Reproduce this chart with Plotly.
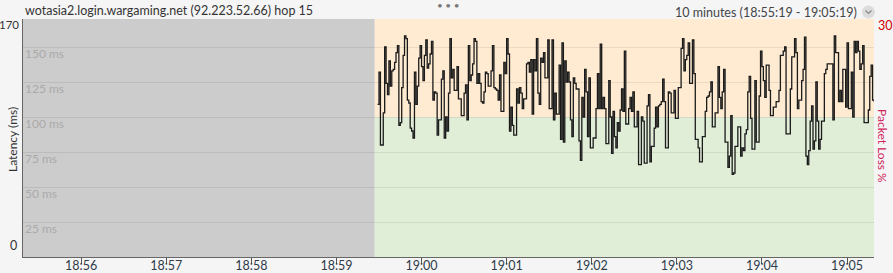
import plotly.graph_objects as go
import pandas as pd

# ---- data ----
title_left = "wotasia2.login.wargaming.net (92.223.52.66) hop 15"
title_right = "10 minutes (18:55:19 - 19:05:19)"
range_start = "2024-01-01 18:55:19"
range_end = "2024-01-01 19:05:19"
first_sample = "2024-01-01 18:59:29"
grid_vals = [25, 50, 75, 100, 125, 150]
grid_labels = ["25 ms", "50 ms", "75 ms", "100 ms", "125 ms", "150 ms"]
y_max = 170
threshold = 100
loss_max_label = "30"
x_tick_labels = ["18:56", "18:57", "18:58", "18:59", "19:00", "19:01", "19:02", "19:03", "19:04", "19:05"]

latency = [
    109, 132, 80, 80, 103, 150, 124, 116, 140, 122, 133, 134, 139, 146, 151, 94, 96, 121, 144, 158,
    156, 112, 110, 92, 90, 85, 132, 109, 122, 142, 151, 136, 126, 144, 155, 135, 138, 145, 154, 112,
    118, 117, 87, 98, 98, 127, 133, 85, 100, 90, 117, 156, 128, 134, 119, 119, 136, 113, 113, 101,
    101, 117, 123, 98, 151, 126, 130, 138, 156, 154, 124, 131, 124, 111, 110, 118, 132, 131, 122, 122,
    133, 151, 121, 120, 119, 112, 130, 104, 104, 139, 131, 156, 145, 90, 107, 94, 87, 87, 120, 110,
    121, 117, 106, 113, 113, 138, 139, 132, 141, 102, 141, 133, 156, 117, 109,
    142, 139, 146, 128, 128, 155, 106, 106, 155, 98, 117, 102, 102, 137, 84, 153, 82, 140, 125, 132,
    125, 98, 86, 128, 124, 120, 120, 83, 69, 114, 100, 134, 118, 86, 128, 78, 78, 85, 85, 106,
    131, 106, 152, 106, 114, 106, 81, 81, 126, 100, 74, 104, 86, 78, 96, 90, 105, 120, 104, 147,
    95, 95, 106, 114, 104, 118, 93, 93, 104, 66, 66, 100, 97, 67, 67, 108, 116, 68, 79, 79,
    92, 107, 93, 108, 109, 111, 127, 111, 78, 78, 118, 117, 103, 103, 119, 99, 99, 121, 121, 149,
    156, 133, 141, 144, 153, 124, 124, 155, 131, 84, 84, 78, 68, 68, 86, 86, 104, 114, 115, 118,
    125, 93, 93, 103, 103, 136, 114, 106, 118, 134, 82, 82, 64, 72, 101, 59, 60, 79, 79, 93,
    93, 72, 78, 76, 88, 91, 118, 129, 99, 77, 77, 126, 82, 82, 115, 147, 136, 126, 114, 137,
    137, 119, 101, 101, 107, 107, 111, 111, 119, 144, 144, 147, 150, 88, 88, 88, 120, 143, 143, 156,
    146, 106, 112, 112, 126, 134, 157, 72, 66, 76, 97, 108, 77, 83, 125, 97, 77, 84, 97, 97,
    131, 134, 138, 138, 138, 138, 98, 158, 146, 146, 111, 119, 111, 134, 134, 107, 153, 106, 106, 132,
    100, 154, 146, 154, 147, 134, 138, 151, 96, 96, 96, 105, 129, 137, 112, 111,
]
times = pd.date_range(first_sample, periods=len(latency), freq="s")
tick_times = pd.to_datetime(["2024-01-01 " + t for t in x_tick_labels])

# ---- layout helpers (pixel -> paper) ----
W, H = 893, 273
L, R, T, B = 23, 19, 19, 16
PW, PH = W - L - R, H - T - B
def px(x):
    return (x - L) / PW
def py(y):
    return (H - B - y) / PH

FONT = "Lato, Segoe UI, sans-serif"
gap_end = times[0] - pd.Timedelta(seconds=2)

fig = go.Figure()
fig.add_trace(go.Scatter(
    x=times, y=latency, mode="lines", line=dict(color="#1b1b1b", width=1.3, shape="hv"),
    hoverinfo="skip", showlegend=False))

shapes = [
    dict(type="rect", xref="x", yref="y", x0=range_start, x1=gap_end, y0=0, y1=y_max,
         fillcolor="#cccccc", line_width=0, layer="below"),
    dict(type="rect", xref="x", yref="y", x0=gap_end, x1=range_end, y0=threshold, y1=y_max,
         fillcolor="#ffebd1", line_width=0, layer="below"),
    dict(type="rect", xref="x", yref="y", x0=gap_end, x1=range_end, y0=0, y1=threshold,
         fillcolor="#e0eed8", line_width=0, layer="below"),
    dict(type="circle", xref="paper", yref="paper", x0=px(862), x1=px(875), y0=py(18.5), y1=py(5.5),
         fillcolor="#dcdcdc", line_width=0),
    dict(type="path", xref="paper", yref="paper",
         path=f"M {px(865.5)} {py(10.5)} L {px(868.5)} {py(13.5)} L {px(871.5)} {py(10.5)}",
         line=dict(color="#888888", width=1.2)),
]

annotations = [
    dict(text=title_left, xref="paper", yref="paper", x=0, y=py(11), xanchor="left", yanchor="middle",
         showarrow=False, font=dict(family=FONT, size=12.5, color="#333333")),
    dict(text=title_right, xref="paper", yref="paper", x=px(859), y=py(12), xanchor="right", yanchor="middle",
         showarrow=False, font=dict(family=FONT, size=12.5, color="#444444")),
    dict(text="• • •", xref="paper", yref="paper", x=0.5, y=py(5.5), xanchor="center", yanchor="middle",
         showarrow=False, font=dict(family=FONT, size=10, color="#7a7a7a")),
    dict(text=str(y_max), xref="paper", yref="y", x=px(20), y=y_max, xanchor="right", yanchor="top",
         yshift=2, borderpad=0, showarrow=False, font=dict(family=FONT, size=11.5, color="#333333")),
    dict(text="0", xref="paper", yref="y", x=px(19), y=0, xanchor="right", yanchor="bottom",
         yshift=2, showarrow=False, font=dict(family=FONT, size=12.5, color="#333333")),
    dict(text="Latency (ms)", xref="paper", yref="paper", x=px(12), y=py(140), xanchor="center",
         yanchor="middle", textangle=-90, showarrow=False, font=dict(family=FONT, size=12, color="#333333")),
    dict(text=loss_max_label, xref="paper", yref="y", x=px(876), y=y_max, xanchor="left", yanchor="top",
         yshift=3, showarrow=False, font=dict(family=FONT, size=12.5, color="#cc0000")),
    dict(text="Packet Loss %", xref="paper", yref="paper", x=px(883), y=py(146), xanchor="center",
         yanchor="middle", textangle=90, showarrow=False, font=dict(family=FONT, size=12, color="#d0245a")),
]
for v, lab in zip(grid_vals, grid_labels):
    annotations.append(dict(text=lab, xref="paper", yref="y", x=0, y=v, xanchor="left", yanchor="top",
                            yshift=3, showarrow=False, font=dict(family=FONT, size=12, color="#aaaaaa")))

fig.update_layout(
    width=W, height=H, margin=dict(l=L, r=R, t=T, b=B, autoexpand=False),
    paper_bgcolor="#f5f5f5", plot_bgcolor="#f5f5f5",
    shapes=shapes, annotations=annotations,
    xaxis=dict(type="date", range=[range_start, range_end], tickvals=tick_times, ticktext=x_tick_labels,
               showgrid=False, showline=True, linecolor="#666666", linewidth=1, zeroline=False,
               ticks="outside", ticklen=6, tickcolor="#555555", ticklabelstandoff=-9,
               tickfont=dict(family=FONT, size=12.5, color="#2f3b4a"), automargin=False),
    yaxis=dict(range=[0, y_max], tickvals=grid_vals, showticklabels=False, showgrid=True,
               gridcolor="rgba(0,0,0,0.08)", gridwidth=1, showline=True, linecolor="#666666", linewidth=1,
               zeroline=False, ticks="", automargin=False),
    hovermode=False,
)
fig.write_html("out.html")
